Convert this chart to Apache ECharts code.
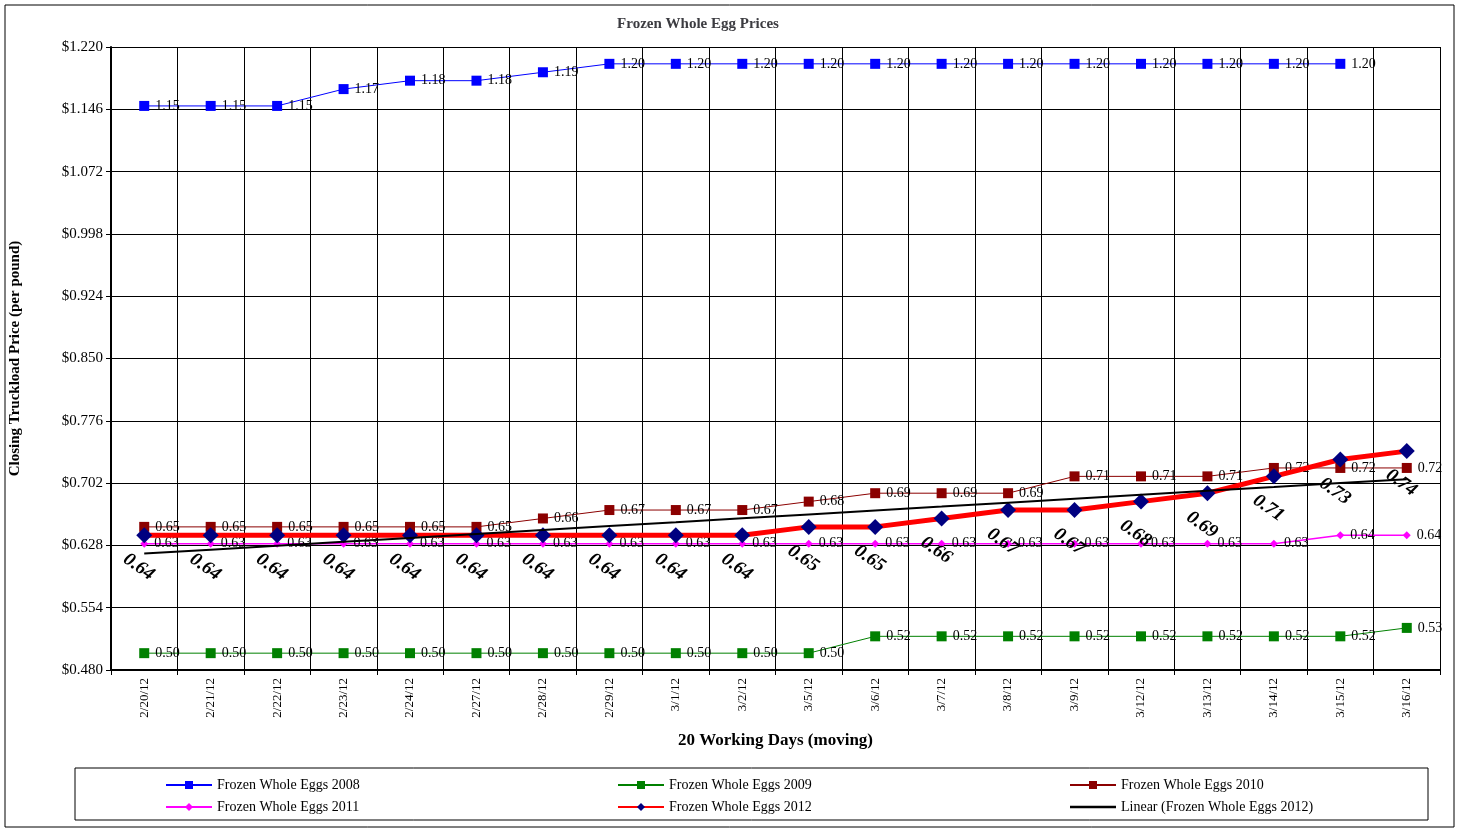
<!DOCTYPE html>
<html><head><meta charset="utf-8">
<script src="https://cdn.jsdelivr.net/npm/echarts@6/dist/echarts.min.js"></script>
<style>html,body{margin:0;padding:0;background:#fff}#c{width:1461px;height:828px}</style>
</head><body><div id="c"></div>
<script>
var days = ["2/20/12","2/21/12","2/22/12","2/23/12","2/24/12","2/27/12","2/28/12","2/29/12","3/1/12","3/2/12",
            "3/5/12","3/6/12","3/7/12","3/8/12","3/9/12","3/12/12","3/13/12","3/14/12","3/15/12","3/16/12"];
var eggs2008 = [1.15,1.15,1.15,1.17,1.18,1.18,1.19,1.20,1.20,1.20,1.20,1.20,1.20,1.20,1.20,1.20,1.20,1.20,1.20,null];
var eggs2009 = [0.50,0.50,0.50,0.50,0.50,0.50,0.50,0.50,0.50,0.50,0.50,0.52,0.52,0.52,0.52,0.52,0.52,0.52,0.52,0.53];
var eggs2010 = [0.65,0.65,0.65,0.65,0.65,0.65,0.66,0.67,0.67,0.67,0.68,0.69,0.69,0.69,0.71,0.71,0.71,0.72,0.72,0.72];
var eggs2011 = [0.63,0.63,0.63,0.63,0.63,0.63,0.63,0.63,0.63,0.63,0.63,0.63,0.63,0.63,0.63,0.63,0.63,0.63,0.64,0.64];
var eggs2012 = [0.64,0.64,0.64,0.64,0.64,0.64,0.64,0.64,0.64,0.64,0.65,0.65,0.66,0.67,0.67,0.68,0.69,0.71,0.73,0.74];

var BASE = 0.48; // axis runs from 0.480 to 1.220 step 0.074
function shift(arr){ return arr.map(function(v){ return v == null ? null : +(v - BASE).toFixed(4); }); }

// least squares trend of 2012
var n = eggs2012.length, sx = 0, sy = 0, sxy = 0, sxx = 0;
for (var i = 0; i < n; i++) { sx += i; sy += eggs2012[i]; sxy += i * eggs2012[i]; sxx += i * i; }
var slope = (n * sxy - sx * sy) / (n * sxx - sx * sx), icpt = (sy - slope * sx) / n;
var trend = eggs2012.map(function(v, i){ return icpt + slope * i; });

var font = "Liberation Serif";
var lbl = function(v){ return (v.value + BASE).toFixed(2); };
function small(){ return {show:true,position:"right",distance:6,formatter:lbl,fontFamily:font,fontSize:14,color:"#000"}; }
var legText = {fontFamily:font,fontSize:14,color:"#000"};

var chart = echarts.init(document.getElementById("c"));
chart.setOption({
  animation:false,
  textStyle:{fontFamily:font},
  title:{text:"Frozen Whole Egg Prices",left:693,top:12,textAlign:"center",textStyle:{fontFamily:font,fontSize:15,fontWeight:"bold"}},
  grid:{left:108,right:21,top:47,bottom:158},
  xAxis:{type:"category",data:days,boundaryGap:true,
    name:"20 Working Days (moving)",nameLocation:"middle",nameGap:62,
    nameTextStyle:{fontFamily:font,fontSize:17,fontWeight:"bold",color:"#000"},
    axisLine:{lineStyle:{color:"#000",width:2}},axisTick:{show:true,lineStyle:{color:"#000"}},
    axisLabel:{rotate:90,interval:0,fontFamily:font,fontSize:13,color:"#000"},
    splitLine:{show:true,interval:0,lineStyle:{color:"#000",width:1}}},
  yAxis:{type:"value",min:0,max:0.74,interval:0.074,
    name:"Closing Truckload Price (per pound)",nameLocation:"middle",nameGap:88,
    nameTextStyle:{fontFamily:font,fontSize:15,fontWeight:"bold",color:"#000"},
    axisLine:{show:true,lineStyle:{color:"#000",width:2}},axisTick:{show:true,lineStyle:{color:"#000"}},
    axisLabel:{formatter:function(v){ return "$" + (v + BASE).toFixed(3); },fontFamily:font,fontSize:15,color:"#000"},
    splitLine:{lineStyle:{color:"#000",width:1}}},
  legend:[
    {orient:"vertical",left:160,top:773,itemGap:8,itemWidth:46,itemHeight:10,textStyle:legText,data:["Frozen Whole Eggs 2008","Frozen Whole Eggs 2011"]},
    {orient:"vertical",left:612,top:773,itemGap:8,itemWidth:46,itemHeight:10,textStyle:legText,data:["Frozen Whole Eggs 2009","Frozen Whole Eggs 2012"]},
    {orient:"vertical",left:1064,top:773,itemGap:8,itemWidth:46,itemHeight:10,textStyle:legText,
      data:["Frozen Whole Eggs 2010",{name:"Linear (Frozen Whole Eggs 2012)",icon:"path://M0,4h40v2h-40z"}]}
  ],
  graphic:[
    {type:"rect",shape:{x:5,y:5,width:1449,height:822},style:{fill:"none",stroke:"#000",lineWidth:1},silent:true},
    {type:"rect",shape:{x:75,y:768,width:1353,height:52},style:{fill:"none",stroke:"#000",lineWidth:1},silent:true}
  ],
  series:[
    {name:"Frozen Whole Eggs 2008",type:"line",data:shift(eggs2008),color:"#0000ff",symbol:"rect",symbolSize:10,lineStyle:{width:1},label:small()},
    {name:"Frozen Whole Eggs 2009",type:"line",data:shift(eggs2009),color:"#008000",symbol:"rect",symbolSize:10,lineStyle:{width:1},label:small()},
    {name:"Frozen Whole Eggs 2010",type:"line",data:shift(eggs2010),color:"#8b0000",symbol:"rect",symbolSize:10,lineStyle:{width:1},label:small()},
    {name:"Frozen Whole Eggs 2011",type:"line",data:shift(eggs2011),color:"#ff00ff",symbol:"diamond",symbolSize:8,lineStyle:{width:1.5},label:small()},
    {name:"Frozen Whole Eggs 2012",type:"line",data:shift(eggs2012),color:"#ff0000",symbol:"diamond",symbolSize:16,
      itemStyle:{color:"#000080"},lineStyle:{width:5,color:"#ff0000"},z:5,
      label:{show:true,position:"bottom",distance:16,rotate:-35,formatter:lbl,fontFamily:font,fontSize:19,fontWeight:"bold",fontStyle:"italic",color:"#000"}},
    {name:"Linear (Frozen Whole Eggs 2012)",type:"line",data:shift(trend),color:"#000",symbol:"none",lineStyle:{width:2},z:6}
  ]
});
</script></body></html>
